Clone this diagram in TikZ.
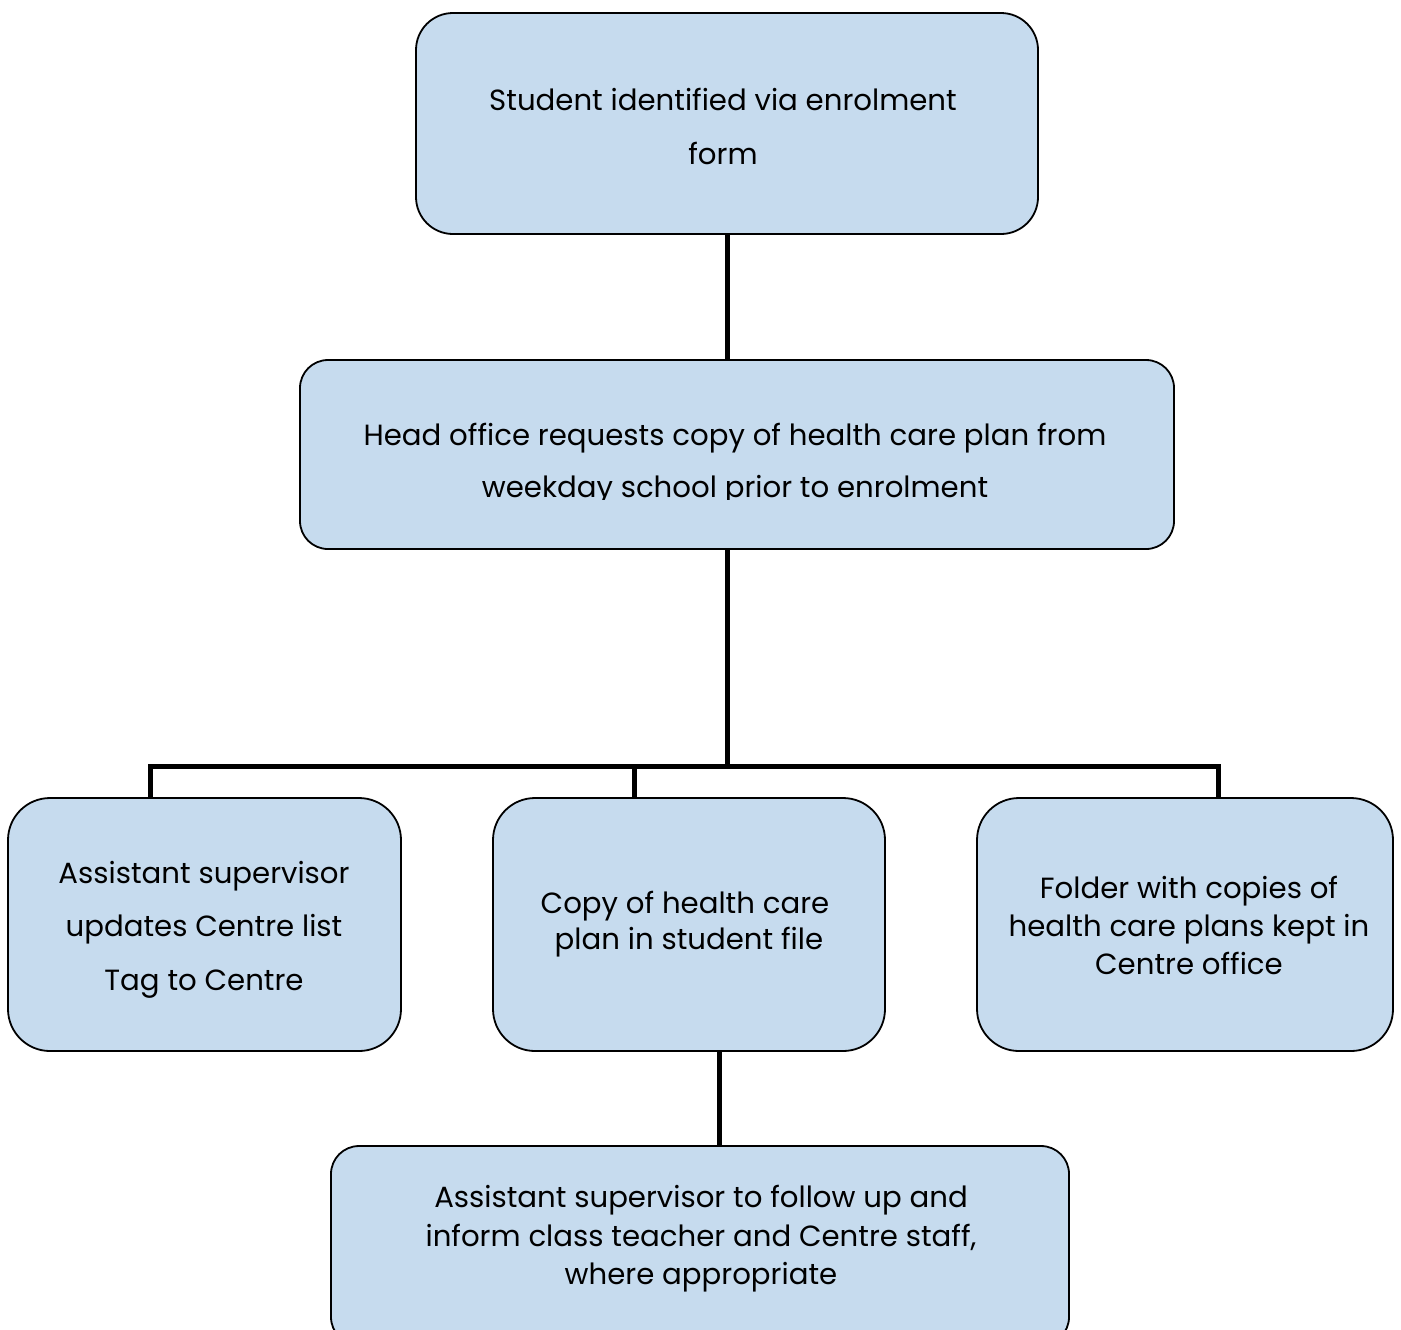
\documentclass[tikz,border=0pt]{standalone}
\usepackage{fontspec}
\setmainfont{Poppins}
\definecolor{boxfill}{HTML}{C6DBEE}
\begin{document}
\begin{tikzpicture}[x=0.5pt,y=-0.5pt,
  box/.style={draw=black,line width=0.9pt,fill=boxfill,inner sep=0pt,outer sep=0pt},
  conn/.style={draw=black,line width=2.5pt},
  txt/.style={align=center,inner sep=0pt,text=black,font=\fontsize{14.6}{#1}\selectfont}]
\clip (0,0) rectangle (1401,1329);
% boxes
\node[box,rounded corners=18.5pt,minimum width=311pt,minimum height=110.5pt] (top) at (727,123.5) {};
\node[box,rounded corners=14pt,minimum width=437pt,minimum height=94.5pt] (head) at (737,454.5) {};
\node[box,rounded corners=21pt,minimum width=196.5pt,minimum height=126.5pt] (left) at (204.5,924.5) {};
\node[box,rounded corners=21pt,minimum width=196pt,minimum height=126.5pt] (mid) at (689,924.5) {};
\node[box,rounded corners=21pt,minimum width=208pt,minimum height=126.5pt] (right) at (1185,924.5) {};
\node[box,rounded corners=14pt,minimum width=369pt,minimum height=99.5pt] (bot) at (700,1245.5) {};
% texts
\node[txt=27pt] (ttop) at (723,126) {Student identified via enrolment\\form};
\begin{scope}
\clip (0,0) rectangle (1401,499);
\node[txt=26pt] (thead) at (735,464) {Head office requests copy of health care plan from\\weekday school prior to enrolment};
\end{scope}
\node[txt=26.75pt] (tleft) at (204,929.5) {Assistant supervisor\\updates Centre list\\Tag to Centre};
\node[txt=18pt] (tmid) at (685,924) {Copy of health care\\\ plan in student file};
\node[txt=19pt] (tright) at (1189,925.5) {Folder with copies of\\health care plans kept in\\Centre office};
\node[txt=19.25pt] (tbot) at (701,1239) {Assistant supervisor to follow up and\\inform class teacher and Centre staff,\\where appropriate};
% connector points
\coordinate (jc) at (727,766);
\coordinate (j1) at (150,766);
\coordinate (j2) at (634,766);
\coordinate (j3) at (1218,766);
\coordinate (mx) at (719,1100);
% connectors
\draw[conn] (top.south) -- (top.south |- head.north);
\draw[conn] (jc |- head.south) -- (jc);
\draw[conn] (j1 |- left.north) -- (j1) -- (j3) -- (j3 |- right.north);
\draw[conn] (j2) -- (j2 |- mid.north);
\draw[conn] (mx |- mid.south) -- (mx |- bot.north);
\end{tikzpicture}
\end{document}
